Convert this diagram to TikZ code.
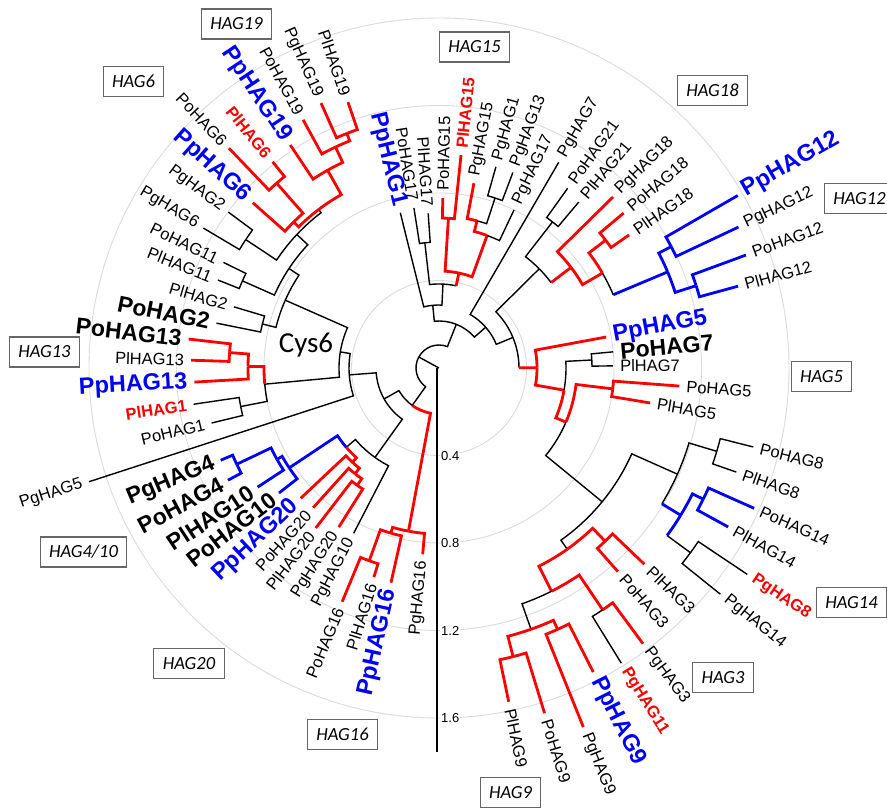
\documentclass[tikz,border=0pt]{standalone}
\usepackage{fontspec}
\setmainfont{Liberation Sans}
\newfontfamily\carl{Carlito}
\newcommand{\TreeE}[5]{\draw[#5] (#1:#2pt) arc[start angle=#1, end angle=#3, radius=#2pt] -- (#3:#4pt);}
\newcommand{\TreeM}[6]{\draw[#5] (#1:#2pt) arc[start angle=#1, end angle=#3, radius=#2pt]; \draw[#6] (#3:#2pt) -- (#3:#4pt);}
\newcommand{\LabL}[4]{\node[#3, anchor=east, rotate={#1-180}] (n#4) at (#1:#2pt) {#4};}
\newcommand{\LabR}[4]{\node[#3, anchor=west, rotate=#1] (n#4) at (#1:#2pt) {#4};}
\begin{document}
\begin{tikzpicture}[x=1pt,y=1pt,
  brK/.style={draw=black, line width=1.4pt},
  brR/.style={draw=red, line width=2.8pt},
  brB/.style={draw=blue, line width=2.8pt},
  tl/.style={inner xsep=7pt, inner ysep=0pt, font=\fontsize{16.5}{18}\selectfont},
  tlB/.style={tl, font=\fontsize{23.5}{25}\selectfont\bfseries, text=blue},
  tlK/.style={tl, font=\fontsize{23}{25}\selectfont\bfseries},
  tlR/.style={tl, font=\fontsize{16.5}{18}\selectfont\bfseries, text=red},
  hagbox/.style={draw=black!60, line width=1.1pt, inner xsep=9pt, minimum height=30pt, font=\carl\itshape\fontsize{18.5}{20}\selectfont},
  scl/.style={anchor=west, fill=white, inner sep=1pt, font=\fontsize{13}{14}\selectfont},
  grid/.style={draw=black!14, line width=0.9pt}]
\useasboundingbox (-439,-441) rectangle (448,368);
\fill[white] (-439,-441) rectangle (448,368);
\clip (-439,-441) rectangle (448,368);
% grid circles
\draw[grid] (0,0) circle[radius=87.5pt];
\draw[grid] (0,0) circle[radius=175pt];
\draw[grid] (0,0) circle[radius=262.5pt];
\draw[grid] (0,0) circle[radius=350pt];
% scale bar
\draw[black, line width=1.6pt] (-2,0) -- (-2,-384);
\node[scl] (s04) at (1,-88) {0.4};
\node[scl] (s08) at (1,-175) {0.8};
\node[scl] (s12) at (1,-263) {1.2};
\node[scl] (s16) at (1,-350) {1.6};
% root
\draw[brK] (0,0) -- (151.4:23pt);
\TreeE{151.4}{23}{68.4}{47}{brK}
\TreeE{151.4}{23}{234.4}{46}{brK}
% B
\TreeE{234.4}{46}{259.4}{166}{brR}
\TreeE{234.4}{46}{209.4}{63}{brK}
\TreeE{259.4}{166}{265}{187}{brR}
\TreeE{259.4}{166}{253.75}{172}{brR}
\TreeE{253.75}{172}{257.4}{220}{brR}
\TreeE{253.75}{172}{250.1}{205}{brR}
\TreeE{250.1}{205}{247.5}{253}{brR}
\TreeE{250.1}{205}{252.7}{219}{brR}
% C
\TreeE{209.4}{63}{184.4}{90}{brK}
\TreeE{209.4}{63}{234.4}{110}{brK}
\TreeE{234.4}{110}{242.7}{186}{brK}
\TreeE{234.4}{110}{220.55}{122}{brK}
\TreeE{220.55}{122}{213.7}{180}{brB}
\TreeE{220.55}{122}{227.4}{128}{brR}
\TreeE{213.7}{180}{218}{203}{brB}
\TreeE{213.7}{180}{209.4}{186}{brB}
\TreeE{209.4}{186}{213.3}{217}{brB}
\TreeE{209.4}{186}{205.45}{224}{brB}
\TreeE{205.45}{224}{208}{239}{brB}
\TreeE{205.45}{224}{202.9}{237}{brB}
\TreeE{227.4}{128}{223.3}{190}{brR}
\TreeE{227.4}{128}{231.55}{135}{brR}
\TreeE{231.55}{135}{228}{188}{brR}
\TreeE{231.55}{135}{235.1}{143}{brR}
\TreeE{235.1}{143}{232.4}{202}{brR}
\TreeE{235.1}{143}{237.8}{188}{brR}
% c1
\TreeE{184.4}{90}{198}{368}{brK}
\TreeE{184.4}{90}{170.75}{100}{brK}
\TreeE{170.75}{100}{156.2}{168}{brK}
\TreeE{170.75}{100}{185.3}{175}{brK}
\TreeE{185.3}{175}{179.55}{191}{brR}
\TreeE{185.3}{175}{191}{202}{brK}
\TreeE{179.55}{191}{183.3}{245}{brR}
\TreeE{179.55}{191}{175.8}{210}{brR}
\TreeE{175.8}{210}{178.2}{248}{brR}
\TreeE{175.8}{210}{173.4}{252}{brR}
\TreeE{191}{202}{188.4}{248}{brK}
\TreeE{191}{202}{193.6}{234}{brK}
\TreeE{156.2}{168}{166}{182}{brK}
\TreeE{156.2}{168}{146.45}{180}{brK}
\TreeE{166}{182}{168.6}{227}{brK}
\TreeE{166}{182}{163.4}{214}{brK}
\TreeE{146.45}{180}{156.1}{215}{brK}
\TreeE{146.45}{180}{136.8}{195}{brK}
\TreeE{156.1}{215}{158.3}{238}{brK}
\TreeE{156.1}{215}{153.9}{240}{brK}
\TreeE{136.8}{195}{146.4}{232}{brK}
\TreeE{136.8}{195}{127.2}{199}{brK}
\TreeE{146.4}{232}{149.3}{274}{brK}
\TreeE{146.4}{232}{143.5}{262}{brK}
\TreeE{127.2}{199}{134.85}{206}{brR}
\TreeE{127.2}{199}{119.4}{227}{brR}
\TreeE{134.85}{206}{138.4}{249}{brR}
\TreeE{134.85}{206}{131.3}{246}{brR}
\TreeE{131.3}{246}{133.7}{304}{brR}
\TreeE{131.3}{246}{128.9}{265}{brR}
\TreeE{119.4}{227}{123.7}{268}{brR}
\TreeE{119.4}{227}{115.1}{244}{brR}
\TreeE{115.1}{244}{118.7}{283}{brR}
\TreeE{115.1}{244}{111.45}{252}{brR}
\TreeE{111.45}{252}{114}{290}{brR}
\TreeE{111.45}{252}{108.9}{281}{brR}
% A
\TreeE{68.4}{47}{95.7}{63}{brK}
\TreeE{68.4}{47}{41.1}{62}{brK}
\TreeE{95.7}{63}{104}{160}{brK}
\TreeE{95.7}{63}{87.3}{84}{brK}
\TreeE{87.3}{84}{96.45}{126}{brK}
\TreeM{87.3}{84}{78.2}{97}{brK}{brR}
\TreeE{96.45}{126}{98.9}{162}{brK}
\TreeE{96.45}{126}{94}{155}{brK}
\TreeE{78.2}{97}{86.4}{150}{brR}
\TreeE{78.2}{97}{70.05}{141}{brR}
\TreeE{86.4}{150}{88.7}{170}{brR}
\TreeE{86.4}{150}{84.1}{214}{brR}
\TreeE{70.05}{141}{75.5}{152}{brR}
\TreeE{70.05}{141}{64.6}{175}{brK}
\TreeE{75.5}{152}{79.3}{188}{brR}
\TreeE{75.5}{152}{71.75}{179}{brK}
\TreeE{71.75}{179}{74.2}{209}{brK}
\TreeE{71.75}{179}{69.3}{209}{brK}
% A2
\TreeE{41.1}{62}{59.8}{238}{brK}
\TreeE{41.1}{62}{22.45}{80}{brK}
\TreeE{22.45}{80}{44.7}{141}{brK}
\TreeM{22.45}{80}{0.2}{98}{brK}{brR}
\TreeE{44.7}{141}{52.15}{185}{brK}
\TreeM{44.7}{141}{37.3}{166}{brK}{brR}
\TreeE{52.15}{185}{54.4}{221}{brK}
\TreeE{52.15}{185}{49.9}{217}{brK}
\TreeE{37.3}{166}{44.5}{244}{brR}
\TreeE{37.3}{166}{30.15}{189}{brR}
\TreeE{30.15}{189}{37.5}{210}{brR}
\TreeM{30.15}{189}{22.8}{248}{brK}{brB}
\TreeE{37.5}{210}{40}{241}{brR}
\TreeE{37.5}{210}{35}{232}{brR}
\TreeE{22.8}{248}{27.6}{262}{brB}
\TreeE{22.8}{248}{17.75}{270}{brB}
\TreeE{27.6}{262}{30}{345}{brB}
\TreeE{27.6}{262}{25.2}{331}{brB}
\TreeE{17.75}{270}{20.2}{327}{brB}
\TreeE{17.75}{270}{15.3}{310}{brB}
% R5
\TreeE{0.2}{98}{10.5}{170}{brR}
\TreeE{0.2}{98}{-10.05}{127}{brR}
\TreeE{-10.05}{127}{3}{153}{brK}
\TreeE{-10.05}{127}{-23.1}{138}{brR}
\TreeE{3}{153}{5.3}{175}{brK}
\TreeE{3}{153}{0.7}{174}{brK}
\TreeE{-23.1}{138}{-6.85}{175}{brR}
\TreeE{-23.1}{138}{-39.35}{211}{brK}
\TreeE{-6.85}{175}{-4.3}{241}{brR}
\TreeE{-6.85}{175}{-9.4}{214}{brR}
% LR
\TreeE{-39.35}{211}{-24}{261}{brK}
\TreeE{-39.35}{211}{-54.7}{222}{brK}
\TreeE{-24}{261}{-16.7}{290}{brK}
\TreeM{-24}{261}{-31.35}{283}{brK}{brB}
\TreeE{-16.7}{290}{-14.1}{324}{brK}
\TreeE{-16.7}{290}{-19.3}{315}{brK}
\TreeE{-31.35}{283}{-26.4}{295}{brB}
\TreeM{-31.35}{283}{-36.3}{312}{brB}{brK}
\TreeE{-26.4}{295}{-24}{345}{brB}
\TreeE{-26.4}{295}{-28.8}{330}{brB}
\TreeE{-36.3}{312}{-33.8}{371}{brK}
\TreeE{-36.3}{312}{-38.8}{361}{brK}
\TreeE{-54.7}{222}{-46.2}{240}{brR}
\TreeE{-54.7}{222}{-63.25}{250}{brR}
\TreeE{-46.2}{240}{-43.7}{284}{brR}
\TreeE{-46.2}{240}{-48.7}{271}{brR}
\TreeE{-63.25}{250}{-55.9}{292}{brR}
\TreeE{-63.25}{250}{-70.6}{277}{brK}
\TreeE{-55.9}{292}{-53.5}{343}{brR}
\TreeE{-55.9}{292}{-58.3}{347}{brK}
\TreeE{-70.6}{277}{-65.6}{287}{brR}
\TreeE{-70.6}{277}{-75.6}{298}{brR}
\TreeE{-65.6}{287}{-63.1}{341}{brR}
\TreeE{-65.6}{287}{-68.1}{387}{brR}
\TreeE{-75.6}{298}{-73}{361}{brR}
\TreeE{-75.6}{298}{-78.2}{341}{brR}
% labels left
\LabL{265}{187}{tl}{PgHAG16}
\LabL{257.4}{220}{tlB}{PpHAG16}
\LabL{252.7}{219}{tl}{PlHAG16}
\LabL{247.5}{253}{tl}{PoHAG16}
\LabL{242.7}{186}{tl}{PgHAG10}
\LabL{237.8}{188}{tl}{PgHAG20}
\LabL{232.4}{202}{tl}{PlHAG20}
\LabL{228}{188}{tl}{PoHAG20}
\LabL{223.3}{190}{tlB}{PpHAG20}
\LabL{218}{203}{tlK}{PoHAG10}
\LabL{213.3}{217}{tlK}{PlHAG10}
\LabL{208}{239}{tlK}{PoHAG4}
\LabL{202.9}{237}{tlK}{PgHAG4}
\LabL{198}{368}{tl}{PgHAG5}
\LabL{193.6}{234}{tl}{PoHAG1}
\LabL{188.4}{248}{tlR}{PlHAG1}
\LabL{183.3}{245}{tlB}{PpHAG13}
\LabL{178.2}{248}{tl}{PlHAG13}
\LabL{173.4}{252}{tlK}{PoHAG13}
\LabL{168.6}{227}{tlK}{PoHAG2}
\LabL{163.4}{214}{tl}{PlHAG2}
\LabL{158.3}{238}{tl}{PlHAG11}
\LabL{153.9}{240}{tl}{PoHAG11}
\LabL{149.3}{274}{tl}{PgHAG6}
\LabL{143.5}{262}{tl}{PgHAG2}
\LabL{138.4}{249}{tlB}{PpHAG6}
\LabL{133.7}{304}{tl}{PoHAG6}
\LabL{128.9}{265}{tlR}{PlHAG6}
\LabL{123.7}{268}{tlB}{PpHAG19}
\LabL{118.7}{283}{tl}{PoHAG19}
\LabL{114}{290}{tl}{PgHAG19}
\LabL{108.9}{281}{tl}{PlHAG19}
\LabL{103.8}{160}{tlB}{PpHAG1}
\LabL{98.9}{162}{tl}{PoHAG17}
\LabL{94}{155}{tl}{PlHAG17}
% labels right
\LabR{88.7}{170}{tl}{PoHAG15}
\LabR{84.1}{214}{tlR}{PlHAG15}
\LabR{79.3}{188}{tl}{PgHAG15}
\LabR{74.2}{209}{tl}{PgHAG1}
\LabR{69.3}{209}{tl}{PgHAG13}
\LabR{64.6}{175}{tl}{PgHAG17}
\LabR{59.8}{238}{tl}{PgHAG7}
\LabR{54.4}{221}{tl}{PoHAG21}
\LabR{49.9}{217}{tl}{PlHAG21}
\LabR{44.5}{244}{tl}{PgHAG18}
\LabR{40}{241}{tl}{PoHAG18}
\LabR{35}{232}{tl}{PlHAG18}
\LabR{30}{345}{tlB}{PpHAG12}
\LabR{25.2}{331}{tl}{PgHAG12}
\LabR{20.2}{327}{tl}{PoHAG12}
\LabR{15.3}{310}{tl}{PlHAG12}
\LabR{10.5}{170}{tlB}{PpHAG5}
\LabR{5.3}{175}{tlK}{PoHAG7}
\LabR{0.7}{174}{tl}{PlHAG7}
\LabR{-4.3}{241}{tl}{PoHAG5}
\LabR{-9.4}{214}{tl}{PlHAG5}
\LabR{-14.1}{324}{tl}{PoHAG8}
\LabR{-19.3}{315}{tl}{PlHAG8}
\LabR{-24}{345}{tl}{PoHAG14}
\LabR{-28.8}{330}{tl}{PlHAG14}
\LabR{-33.8}{371}{tlR}{PgHAG8}
\LabR{-38.8}{361}{tl}{PgHAG14}
\LabR{-43.7}{284}{tl}{PlHAG3}
\LabR{-48.7}{271}{tl}{PoHAG3}
\LabR{-53.5}{343}{tl}{PgHAG3}
\LabR{-58.3}{347}{tlR}{PgHAG11}
\LabR{-63.1}{341}{tlB}{PpHAG9}
\LabR{-68.1}{387}{tl}{PgHAG9}
\LabR{-73}{361}{tl}{PoHAG9}
\LabR{-78.2}{341}{tl}{PlHAG9}
% Cys6
\node[font=\carl\fontsize{29}{30}\selectfont] (cys) at (-133,23) {Cys6};
% family boxes
\node[hagbox] (b19) at (-202.5,344) {HAG19};
\node[hagbox] (b6) at (-305.5,286.5) {HAG6};
\node[hagbox] (b15) at (35.5,321) {HAG15};
\node[hagbox] (b18) at (273.5,277.5) {HAG18};
\node[hagbox] (b12) at (420.5,169.5) {HAG12};
\node[hagbox] (b13) at (-394.5,16) {HAG13};
\node[hagbox] (b5) at (382.5,-8.5) {HAG5};
\node[hagbox] (b410) at (-355.5,-184) {HAG4/10};
\node[hagbox] (b14) at (412.5,-234.5) {HAG14};
\node[hagbox] (b20) at (-250,-295.5) {HAG20};
\node[hagbox] (b3) at (284,-309.5) {HAG3};
\node[hagbox] (b16) at (-96.5,-366.5) {HAG16};
\node[hagbox] (b9) at (71.5,-424.5) {HAG9};
\end{tikzpicture}
\end{document}
